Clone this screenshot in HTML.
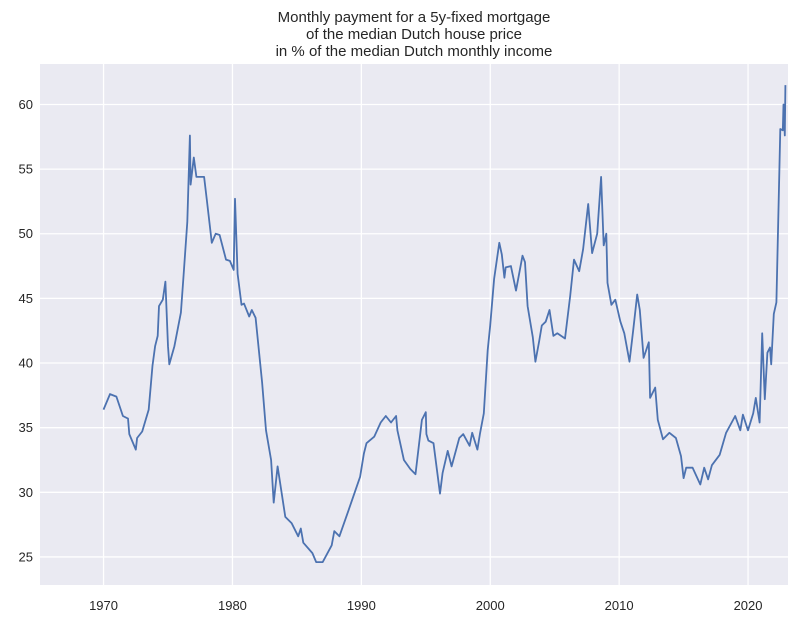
<!DOCTYPE html>
<html><head><meta charset="utf-8"><style>
html,body{margin:0;padding:0;background:#fff;}
svg{display:block;font-family:"Liberation Sans",Arial,sans-serif;}
</style></head><body>
<svg id="chart" width="800" height="622" viewBox="0 0 800 622" xmlns="http://www.w3.org/2000/svg">
<rect width="800" height="622" fill="#fff"/>
<g font-size="15" fill="#262626" text-anchor="middle">
<text x="414" y="22">Monthly payment for a 5y-fixed mortgage</text>
<text x="414" y="39">of the median Dutch house price</text>
<text x="414" y="56">in % of the median Dutch monthly income</text>
</g>
<rect x="40" y="64" width="748" height="521" fill="#EAEAF2"/>
<g id="grid"></g>
<g id="ticks" font-size="13" fill="#262626"></g>
<g id="series"></g>
</svg>
<script>
const years = [1970.0,1970.5,1971.0,1971.5,1971.9,1972.0,1972.5,1972.6,1973.0,1973.5,1973.8,1974.0,1974.2,1974.3,1974.6,1974.8,1975.0,1975.1,1975.5,1976.0,1976.2,1976.5,1976.7,1976.75,1977.0,1977.2,1977.8,1978.0,1978.4,1978.7,1979.0,1979.5,1979.8,1980.1,1980.2,1980.4,1980.7,1980.9,1981.3,1981.5,1981.8,1982.3,1982.6,1983.0,1983.2,1983.5,1984.1,1984.6,1985.1,1985.3,1985.5,1986.2,1986.5,1987.0,1987.7,1987.9,1988.3,1989.0,1989.9,1990.2,1990.4,1991.0,1991.5,1991.9,1992.3,1992.7,1992.8,1993.3,1993.8,1994.2,1994.7,1995.0,1995.05,1995.2,1995.6,1996.1,1996.3,1996.7,1997.0,1997.6,1997.9,1998.4,1998.6,1999.0,1999.2,1999.5,1999.8,2000.0,2000.3,2000.7,2000.9,2001.1,2001.2,2001.6,2002.0,2002.5,2002.7,2002.9,2003.3,2003.5,2003.8,2004.0,2004.3,2004.6,2004.9,2005.2,2005.8,2006.2,2006.5,2006.9,2007.2,2007.6,2007.9,2008.3,2008.6,2008.8,2009.0,2009.1,2009.4,2009.7,2010.1,2010.4,2010.8,2011.1,2011.4,2011.6,2011.9,2012.3,2012.4,2012.8,2013.0,2013.4,2013.9,2014.4,2014.8,2015.0,2015.2,2015.7,2016.3,2016.6,2016.9,2017.2,2017.8,2018.3,2019.0,2019.4,2019.6,2020.0,2020.4,2020.6,2020.9,2021.1,2021.3,2021.5,2021.7,2021.8,2022.0,2022.2,2022.5,2022.7,2022.75,2022.85,2022.9];
const values = [36.4,37.6,37.4,35.9,35.7,34.5,33.3,34.2,34.7,36.4,39.8,41.3,42.1,44.4,44.9,46.3,41.3,39.9,41.3,43.9,46.7,50.9,57.6,53.8,55.9,54.4,54.4,52.7,49.3,50.0,49.9,48.0,47.9,47.2,52.7,46.9,44.5,44.6,43.6,44.1,43.5,38.5,34.8,32.5,29.2,32.0,28.1,27.6,26.6,27.2,26.1,25.3,24.6,24.6,25.9,27.0,26.6,28.6,31.2,33.0,33.8,34.3,35.4,35.9,35.4,35.9,34.8,32.5,31.8,31.4,35.6,36.2,34.5,34.0,33.8,29.9,31.5,33.2,32.0,34.2,34.5,33.6,34.6,33.3,34.5,36.1,41.0,42.9,46.5,49.3,48.4,46.6,47.4,47.5,45.6,48.3,47.8,44.4,42.0,40.1,41.7,42.9,43.2,44.1,42.1,42.3,41.9,45.2,48.0,47.1,48.8,52.3,48.5,50.0,54.4,49.1,50.0,46.2,44.5,44.9,43.2,42.3,40.1,42.6,45.3,44.1,40.4,41.6,37.3,38.1,35.6,34.1,34.6,34.2,32.8,31.1,31.9,31.9,30.6,31.9,31.0,32.1,32.9,34.6,35.9,34.8,36.0,34.8,36.1,37.3,35.4,42.3,37.2,40.8,41.2,39.9,43.8,44.7,58.1,58.0,60.0,57.6,61.5];
const xTicks = [1970,1980,1990,2000,2010,2020];
const yTicks = [25,30,35,40,45,50,55,60];

const X0=40,X1=788,Y0=64,Y1=585;
const xMin=1965.07,xMax=2023.1,yMin=22.83,yMax=63.13;
function xs(v){return X0+(v-xMin)/(xMax-xMin)*(X1-X0);}
function ys(v){return Y1-(v-yMin)/(yMax-yMin)*(Y1-Y0);}
const NS="http://www.w3.org/2000/svg";
const grid=document.getElementById('grid'),ticks=document.getElementById('ticks'),series=document.getElementById('series');
xTicks.forEach(t=>{
  const l=document.createElementNS(NS,'line');
  
  
  l.setAttribute('x1',xs(t));l.setAttribute('x2',xs(t));l.setAttribute('y1',Y0);l.setAttribute('y2',Y1);
  l.setAttribute('stroke','#fff');l.setAttribute('stroke-width','1.3');
  grid.appendChild(l);
  const tx=document.createElementNS(NS,'text');
  
  
  tx.setAttribute('x',xs(t));tx.setAttribute('y',610);tx.setAttribute('text-anchor','middle');
  tx.textContent=t;ticks.appendChild(tx);
});
yTicks.forEach(t=>{
  const l=document.createElementNS(NS,'line');
  
  
  l.setAttribute('x1',X0);l.setAttribute('x2',X1);l.setAttribute('y1',ys(t));l.setAttribute('y2',ys(t));
  l.setAttribute('stroke','#fff');l.setAttribute('stroke-width','1.3');
  grid.appendChild(l);
  const tx=document.createElementNS(NS,'text');
  
  
  tx.setAttribute('x',33);tx.setAttribute('y',ys(t)+4.5);tx.setAttribute('text-anchor','end');
  tx.textContent=t;ticks.appendChild(tx);
});
const p=document.createElementNS(NS,'path');


p.setAttribute('d',years.map((y,i)=>(i?'L':'M')+xs(y).toFixed(1)+','+ys(values[i]).toFixed(1)).join(''));
p.setAttribute('fill','none');p.setAttribute('stroke','#4C72B0');p.setAttribute('stroke-width','1.8');p.setAttribute('stroke-linejoin','round');
series.appendChild(p);
</script>
</body></html>
